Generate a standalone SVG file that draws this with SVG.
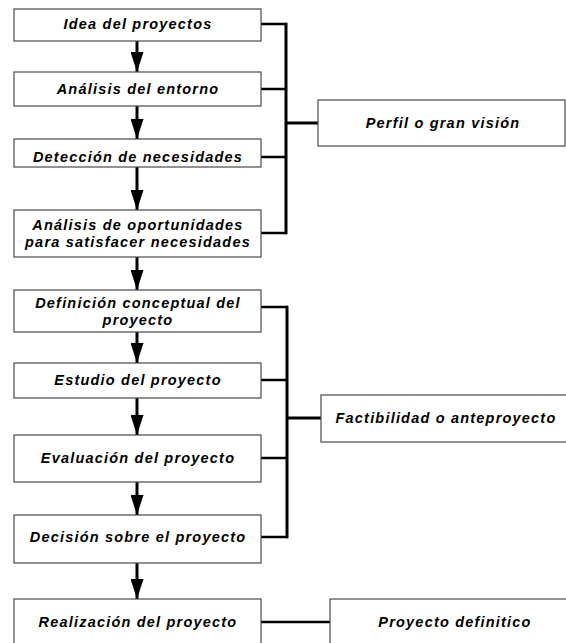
<svg xmlns="http://www.w3.org/2000/svg" width="566" height="643" viewBox="0 0 566 643">
  <defs>
    <style>
      .box { fill: #ffffff; stroke: #4a4a4a; stroke-width: 1.2; }
      .lbl { font-family: "Liberation Sans", Arial, sans-serif; font-size: 14.5px; font-weight: bold; font-style: italic; letter-spacing: 1.2px; fill: #000000; text-anchor: middle; }
      .shaft { stroke: #000000; stroke-width: 3; fill: none; }
      .link { stroke: #000000; stroke-width: 2.5; fill: none; }
      .bar { stroke: #000000; stroke-width: 3; fill: none; }
    </style>
    <!-- solid triangular head, drawn along +x so orient="auto" points it down the line -->
    <marker id="head" viewBox="0 0 20 13" refX="20" refY="6.5" markerWidth="20" markerHeight="13" markerUnits="userSpaceOnUse" orient="auto">
      <path d="M0,0 L20,6.5 L0,13 Z" fill="#000000"/>
    </marker>
  </defs>

  <rect width="566" height="643" fill="#ffffff"/>

  <!-- connectors: downward flow arrows and bracket links -->
  <g id="connectors">
    <line class="shaft" x1="137" y1="41" x2="137" y2="72" marker-end="url(#head)"/>
    <line class="shaft" x1="137" y1="106" x2="137" y2="139" marker-end="url(#head)"/>
    <line class="shaft" x1="137" y1="167" x2="137" y2="210" marker-end="url(#head)"/>
    <line class="shaft" x1="137" y1="257" x2="137" y2="290" marker-end="url(#head)"/>
    <line class="shaft" x1="137" y1="332" x2="137" y2="363" marker-end="url(#head)"/>
    <line class="shaft" x1="137" y1="398" x2="137" y2="435" marker-end="url(#head)"/>
    <line class="shaft" x1="137" y1="482" x2="137" y2="515" marker-end="url(#head)"/>
    <line class="shaft" x1="137" y1="563" x2="137" y2="599" marker-end="url(#head)"/>

    <!-- bracket: Perfil o gran visión -->
    <line class="link" x1="261" y1="24" x2="287" y2="24"/>
    <line class="link" x1="261" y1="89" x2="287" y2="89"/>
    <line class="link" x1="261" y1="157" x2="287" y2="157"/>
    <line class="link" x1="261" y1="233" x2="287" y2="233"/>
    <line class="bar" x1="286" y1="22.8" x2="286" y2="234.2"/>
    <line class="bar" x1="286" y1="123" x2="318" y2="123"/>

    <!-- bracket: Factibilidad o anteproyecto -->
    <line class="link" x1="261" y1="307" x2="288" y2="307"/>
    <line class="link" x1="261" y1="380" x2="288" y2="380"/>
    <line class="link" x1="261" y1="458" x2="288" y2="458"/>
    <line class="link" x1="261" y1="537" x2="288" y2="537"/>
    <line class="bar" x1="287" y1="305.8" x2="287" y2="538.2"/>
    <line class="bar" x1="287" y1="418" x2="321" y2="418"/>

    <!-- link: Proyecto definitico -->
    <line class="link" x1="261" y1="622" x2="330" y2="622"/>
  </g>

  <g id="n1">
    <rect class="box" x="14" y="9" width="247" height="32"/>
    <text class="lbl" x="138" y="29">Idea del proyectos</text>
  </g>
  <g id="n2">
    <rect class="box" x="14" y="72" width="247" height="34"/>
    <text class="lbl" x="138" y="94">Análisis del entorno</text>
  </g>
  <g id="n3">
    <rect class="box" x="14" y="139" width="247" height="28"/>
    <text class="lbl" x="138" y="162">Detección de necesidades</text>
  </g>
  <g id="n4">
    <rect class="box" x="14" y="210" width="247" height="47"/>
    <text class="lbl" x="138" y="230">Análisis de oportunidades</text>
    <text class="lbl" x="138" y="247">para satisfacer necesidades</text>
  </g>
  <g id="n5">
    <rect class="box" x="14" y="290" width="247" height="42"/>
    <text class="lbl" x="138" y="308">Definición conceptual del</text>
    <text class="lbl" x="138" y="325">proyecto</text>
  </g>
  <g id="n6">
    <rect class="box" x="14" y="363" width="247" height="35"/>
    <text class="lbl" x="138" y="385">Estudio del proyecto</text>
  </g>
  <g id="n7">
    <rect class="box" x="14" y="435" width="247" height="47"/>
    <text class="lbl" x="138" y="463">Evaluación del proyecto</text>
  </g>
  <g id="n8">
    <rect class="box" x="14" y="515" width="247" height="48"/>
    <text class="lbl" x="138" y="542">Decisión sobre el proyecto</text>
  </g>
  <g id="n9">
    <rect class="box" x="14" y="599" width="247" height="60"/>
    <text class="lbl" x="138" y="627">Realización del proyecto</text>
  </g>

  <g id="perfil">
    <rect class="box" x="318" y="100" width="247" height="46"/>
    <text class="lbl" x="443" y="128">Perfil o gran visión</text>
  </g>
  <g id="factibilidad">
    <rect class="box" x="321" y="395" width="250" height="47"/>
    <text class="lbl" x="446" y="423">Factibilidad o anteproyecto</text>
  </g>
  <g id="definitivo">
    <rect class="box" x="330" y="599" width="250" height="60"/>
    <text class="lbl" x="455" y="627">Proyecto definitico</text>
  </g>
</svg>
